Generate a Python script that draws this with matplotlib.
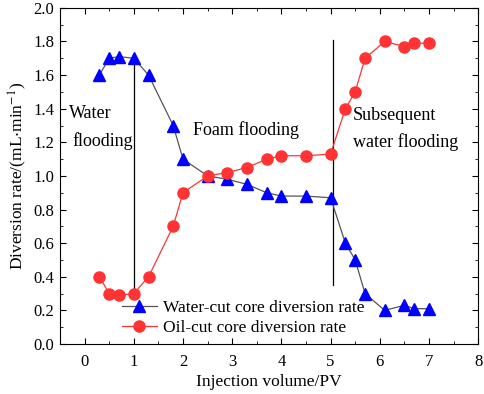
import matplotlib
matplotlib.use("Agg")
import matplotlib.pyplot as plt
from matplotlib.ticker import MultipleLocator

plt.rcParams['font.family'] = ['Liberation Serif', 'DejaVu Serif']
plt.rcParams['mathtext.fontset'] = 'stix'

x_vals = [0.3, 0.5, 0.7, 1.0, 1.3, 1.8, 2.0, 2.5, 2.9, 3.3, 3.7, 4.0, 4.5, 5.0, 5.3, 5.5, 5.7, 6.1, 6.5, 6.7, 7.0]
water_cut = [1.6, 1.7, 1.71, 1.7, 1.6, 1.3, 1.1, 1.0, 0.98, 0.95, 0.90, 0.88, 0.88, 0.87, 0.6, 0.5, 0.3, 0.2, 0.23, 0.21, 0.21]
oil_cut = [0.4, 0.3, 0.29, 0.3, 0.4, 0.7, 0.9, 1.0, 1.02, 1.05, 1.10, 1.12, 1.12, 1.13, 1.4, 1.5, 1.7, 1.8, 1.77, 1.79, 1.79]
stage_lines = [(1.0, 0.3, 1.7), (5.05, 0.35, 1.81)]

fig = plt.figure(figsize=(4.84, 3.94), dpi=100)
ax = fig.add_axes([0.124, 0.127, 0.864, 0.853])

ax.plot(x_vals, water_cut, color='#555555', lw=0.9, marker='^', markersize=8.5,
        markerfacecolor='#0000ff', markeredgecolor='#0000ff', label='Water-cut core diversion rate', zorder=3)
ax.plot(x_vals, oil_cut, color='#ff3333', lw=0.9, marker='o', markersize=8,
        markerfacecolor='#ff3333', markeredgecolor='#ff3333', label='Oil-cut core diversion rate', zorder=3)

for xv, y0, y1 in stage_lines:
    ax.plot([xv, xv], [y0, y1], color='black', lw=0.9, zorder=2)

fs = 13
ax.text(-0.32, 1.37, 'Water', fontsize=fs, va='center', ha='left')
ax.text(-0.25, 1.21, 'flooding', fontsize=fs, va='center', ha='left')
ax.text(2.2, 1.27, 'Foam flooding', fontsize=fs, va='center', ha='left')
ax.text(5.46, 1.36, 'Subsequent', fontsize=fs, va='center', ha='left')
ax.text(5.46, 1.20, 'water flooding', fontsize=fs, va='center', ha='left')

ax.set_xlim(-0.5, 8)
ax.set_ylim(0, 2.0)
ax.xaxis.set_major_locator(MultipleLocator(1))
ax.xaxis.set_minor_locator(MultipleLocator(0.5))
ax.yaxis.set_major_locator(MultipleLocator(0.2))
ax.yaxis.set_minor_locator(MultipleLocator(0.1))
ax.yaxis.set_major_formatter(matplotlib.ticker.FormatStrFormatter('%.1f'))
ax.tick_params(which='both', direction='in', top=True, right=True, labelsize=12)
ax.tick_params(axis='x', pad=7)
ax.tick_params(axis='y', pad=4)
ax.tick_params(which='major', length=4)
ax.tick_params(which='minor', length=2)

ax.set_xlabel('Injection volume/PV', fontsize=12.5, labelpad=3)
ax.set_ylabel('Diversion rate/(mL$\\cdot$min$^{-1}$)', fontsize=12.5, labelpad=3)

ax.legend(loc='lower left', bbox_to_anchor=(0.118, -0.013), frameon=False, fontsize=12.5,
          handlelength=2.05, handletextpad=0.35, borderaxespad=0.3, labelspacing=0.25)

fig.savefig('out.png', dpi=100)
